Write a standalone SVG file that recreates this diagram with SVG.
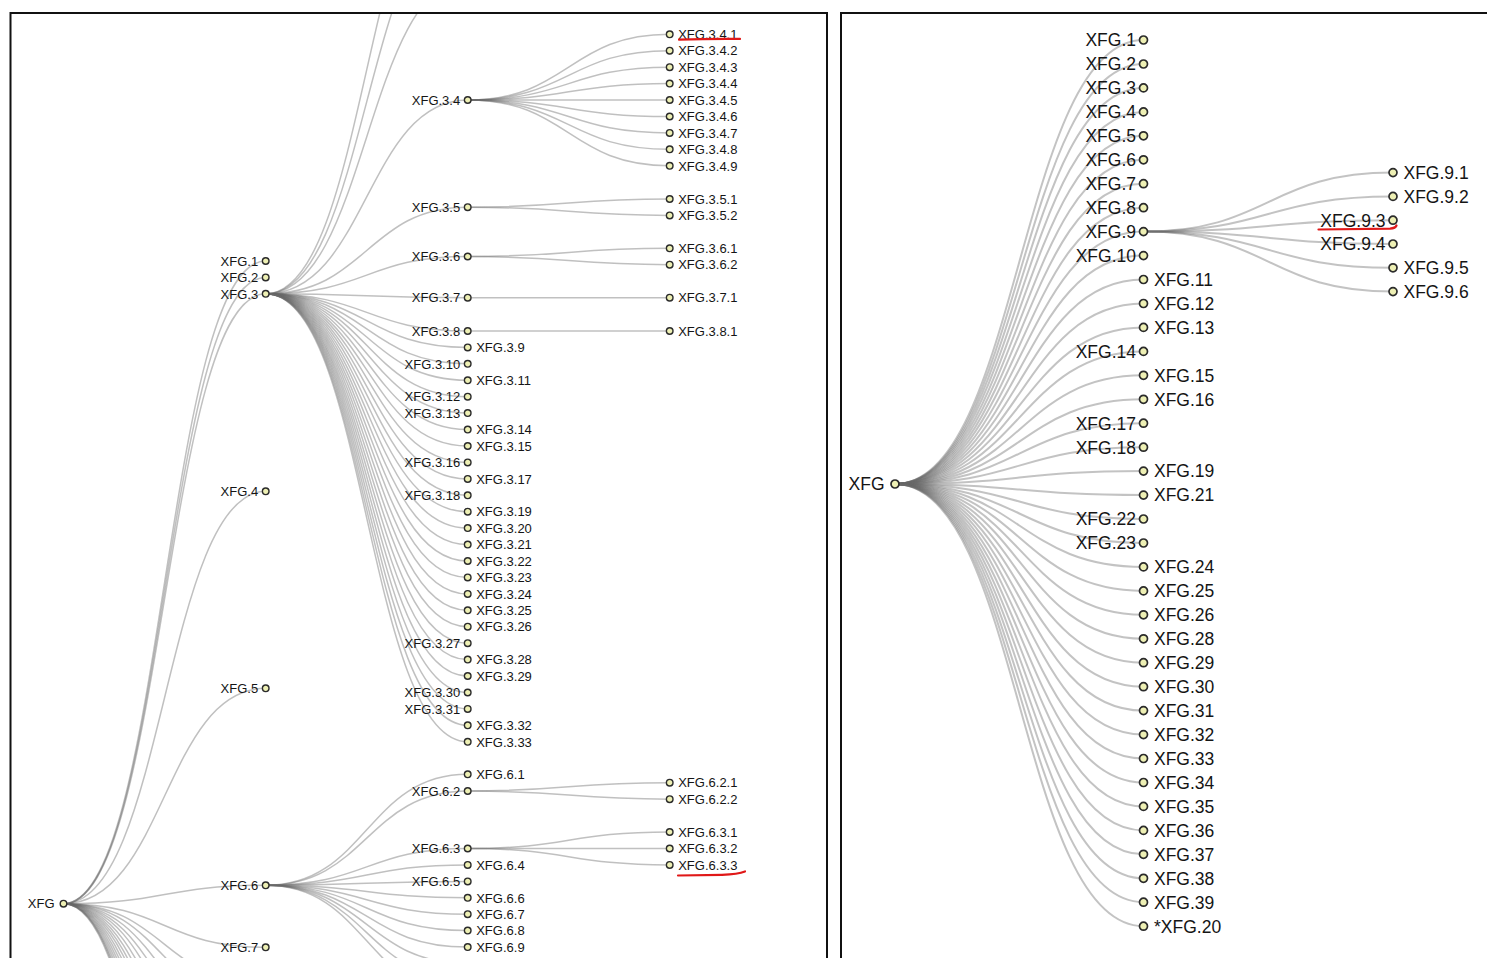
<svg xmlns="http://www.w3.org/2000/svg" width="1487" height="958" viewBox="0 0 1487 958">
<style>
.lk{fill:none;stroke:#6a6a6a;stroke-opacity:.42;stroke-width:1.5}
.rk{fill:none;stroke:#6a6a6a;stroke-opacity:.4;stroke-width:2}
.n circle{fill:#eef0b4;stroke:#2b2b2b;stroke-width:1.4}
.ln text{font-family:"Liberation Sans",Arial,sans-serif;font-size:13px;fill:#151515}
.rn text{font-family:"Liberation Sans",Arial,sans-serif;font-size:17.5px;fill:#151515}
.rn circle{stroke-width:1.7}
.e{text-anchor:end}
.frame{fill:none;stroke:#111;stroke-width:2}
.red{fill:none;stroke:#e01818;stroke-width:2.2;stroke-linecap:round}
</style>
<defs>
<clipPath id="cl"><rect x="11" y="14" width="815" height="960"/></clipPath>
<clipPath id="cr"><rect x="842" y="14" width="660" height="960"/></clipPath>
</defs>
<rect width="1487" height="958" fill="#fff"/>
<rect class="frame" x="10.5" y="13" width="816.5" height="980"/>
<rect class="frame" x="841" y="13" width="680" height="980"/>

<g id="links-left" clip-path="url(#cl)">
<path class="lk" d="M63.5,903.7C164.6,903.7 164.6,261 265.7,261"/>
<path class="lk" d="M63.5,903.7C164.6,903.7 164.6,277.4 265.7,277.4"/>
<path class="lk" d="M63.5,903.7C164.6,903.7 164.6,293.8 265.7,293.8"/>
<path class="lk" d="M63.5,903.7C164.6,903.7 164.6,491.3 265.7,491.3"/>
<path class="lk" d="M63.5,903.7C164.6,903.7 164.6,688.3 265.7,688.3"/>
<path class="lk" d="M63.5,903.7C164.6,903.7 164.6,885.3 265.7,885.3"/>
<path class="lk" d="M63.5,903.7C164.6,903.7 164.6,947.3 265.7,947.3"/>
<path class="lk" d="M63.5,903.7C164.6,903.7 164.6,985 265.7,985"/>
<path class="lk" d="M63.5,903.7C164.6,903.7 164.6,1010 265.7,1010"/>
<path class="lk" d="M63.5,903.7C164.6,903.7 164.6,1040 265.7,1040"/>
<path class="lk" d="M63.5,903.7C164.6,903.7 164.6,1070 265.7,1070"/>
<path class="lk" d="M63.5,903.7C164.6,903.7 164.6,1100 265.7,1100"/>
<path class="lk" d="M63.5,903.7C164.6,903.7 164.6,1135 265.7,1135"/>
<path class="lk" d="M63.5,903.7C164.6,903.7 164.6,1170 265.7,1170"/>
<path class="lk" d="M63.5,903.7C164.6,903.7 164.6,1205 265.7,1205"/>
<path class="lk" d="M63.5,903.7C164.6,903.7 164.6,1240 265.7,1240"/>
<path class="lk" d="M63.5,903.7C164.6,903.7 164.6,1280 265.7,1280"/>
<path class="lk" d="M63.5,903.7C164.6,903.7 164.6,1320 265.7,1320"/>
<path class="lk" d="M63.5,903.7C164.6,903.7 164.6,1360 265.7,1360"/>
<path class="lk" d="M63.5,903.7C164.6,903.7 164.6,1400 265.7,1400"/>
<path class="lk" d="M63.5,903.7C164.6,903.7 164.6,1440 265.7,1440"/>
<path class="lk" d="M63.5,903.7C164.6,903.7 164.6,1480 265.7,1480"/>
<path class="lk" d="M63.5,903.7C164.6,903.7 164.6,1515 265.7,1515"/>
<path class="lk" d="M63.5,903.7C164.6,903.7 164.6,1546 265.7,1546"/>

<path class="lk" d="M265.7,293.8C366.7,293.8 366.7,-154 467.7,-154"/>
<path class="lk" d="M265.7,293.8C366.7,293.8 366.7,-90 467.7,-90"/>
<path class="lk" d="M265.7,293.8C366.7,293.8 366.7,-20 467.7,-20"/>
<path class="lk" d="M265.7,293.8C366.7,293.8 366.7,100 467.7,100"/>
<path class="lk" d="M265.7,293.8C366.7,293.8 366.7,207.2 467.7,207.2"/>
<path class="lk" d="M265.7,293.8C366.7,293.8 366.7,256.5 467.7,256.5"/>
<path class="lk" d="M265.7,293.8C366.7,293.8 366.7,297.7 467.7,297.7"/>
<path class="lk" d="M265.7,293.8C366.7,293.8 366.7,331 467.7,331"/>
<path class="lk" d="M265.7,293.8C366.7,293.8 366.7,347.4 467.7,347.4"/>
<path class="lk" d="M265.7,293.8C366.7,293.8 366.7,363.8 467.7,363.8"/>
<path class="lk" d="M265.7,293.8C366.7,293.8 366.7,380.3 467.7,380.3"/>
<path class="lk" d="M265.7,293.8C366.7,293.8 366.7,396.7 467.7,396.7"/>
<path class="lk" d="M265.7,293.8C366.7,293.8 366.7,413.1 467.7,413.1"/>
<path class="lk" d="M265.7,293.8C366.7,293.8 366.7,429.6 467.7,429.6"/>
<path class="lk" d="M265.7,293.8C366.7,293.8 366.7,446 467.7,446"/>
<path class="lk" d="M265.7,293.8C366.7,293.8 366.7,462.4 467.7,462.4"/>
<path class="lk" d="M265.7,293.8C366.7,293.8 366.7,478.9 467.7,478.9"/>
<path class="lk" d="M265.7,293.8C366.7,293.8 366.7,495.3 467.7,495.3"/>
<path class="lk" d="M265.7,293.8C366.7,293.8 366.7,511.7 467.7,511.7"/>
<path class="lk" d="M265.7,293.8C366.7,293.8 366.7,528.1 467.7,528.1"/>
<path class="lk" d="M265.7,293.8C366.7,293.8 366.7,544.6 467.7,544.6"/>
<path class="lk" d="M265.7,293.8C366.7,293.8 366.7,561 467.7,561"/>
<path class="lk" d="M265.7,293.8C366.7,293.8 366.7,577.4 467.7,577.4"/>
<path class="lk" d="M265.7,293.8C366.7,293.8 366.7,593.9 467.7,593.9"/>
<path class="lk" d="M265.7,293.8C366.7,293.8 366.7,610.3 467.7,610.3"/>
<path class="lk" d="M265.7,293.8C366.7,293.8 366.7,626.7 467.7,626.7"/>
<path class="lk" d="M265.7,293.8C366.7,293.8 366.7,643.2 467.7,643.2"/>
<path class="lk" d="M265.7,293.8C366.7,293.8 366.7,659.6 467.7,659.6"/>
<path class="lk" d="M265.7,293.8C366.7,293.8 366.7,676 467.7,676"/>
<path class="lk" d="M265.7,293.8C366.7,293.8 366.7,692.5 467.7,692.5"/>
<path class="lk" d="M265.7,293.8C366.7,293.8 366.7,708.9 467.7,708.9"/>
<path class="lk" d="M265.7,293.8C366.7,293.8 366.7,725.3 467.7,725.3"/>
<path class="lk" d="M265.7,293.8C366.7,293.8 366.7,741.8 467.7,741.8"/>

<path class="lk" d="M265.7,885.3C366.7,885.3 366.7,774.3 467.7,774.3"/>
<path class="lk" d="M265.7,885.3C366.7,885.3 366.7,791 467.7,791"/>
<path class="lk" d="M265.7,885.3C366.7,885.3 366.7,848.5 467.7,848.5"/>
<path class="lk" d="M265.7,885.3C366.7,885.3 366.7,864.9 467.7,864.9"/>
<path class="lk" d="M265.7,885.3C366.7,885.3 366.7,881.4 467.7,881.4"/>
<path class="lk" d="M265.7,885.3C366.7,885.3 366.7,897.8 467.7,897.8"/>
<path class="lk" d="M265.7,885.3C366.7,885.3 366.7,914.2 467.7,914.2"/>
<path class="lk" d="M265.7,885.3C366.7,885.3 366.7,930.6 467.7,930.6"/>
<path class="lk" d="M265.7,885.3C366.7,885.3 366.7,947.1 467.7,947.1"/>
<path class="lk" d="M265.7,885.3C366.7,885.3 366.7,963.5 467.7,963.5"/>
<path class="lk" d="M265.7,885.3C366.7,885.3 366.7,979.9 467.7,979.9"/>
<path class="lk" d="M265.7,885.3C366.7,885.3 366.7,996.4 467.7,996.4"/>

<path class="lk" d="M467.7,100C568.7,100 568.7,34.3 669.7,34.3"/>
<path class="lk" d="M467.7,100C568.7,100 568.7,50.7 669.7,50.7"/>
<path class="lk" d="M467.7,100C568.7,100 568.7,67.2 669.7,67.2"/>
<path class="lk" d="M467.7,100C568.7,100 568.7,83.6 669.7,83.6"/>
<path class="lk" d="M467.7,100C568.7,100 568.7,100 669.7,100"/>
<path class="lk" d="M467.7,100C568.7,100 568.7,116.5 669.7,116.5"/>
<path class="lk" d="M467.7,100C568.7,100 568.7,132.9 669.7,132.9"/>
<path class="lk" d="M467.7,100C568.7,100 568.7,149.3 669.7,149.3"/>
<path class="lk" d="M467.7,100C568.7,100 568.7,165.8 669.7,165.8"/>
<path class="lk" d="M467.7,207.2C568.7,207.2 568.7,199 669.7,199"/>
<path class="lk" d="M467.7,207.2C568.7,207.2 568.7,215.4 669.7,215.4"/>
<path class="lk" d="M467.7,256.5C568.7,256.5 568.7,248.3 669.7,248.3"/>
<path class="lk" d="M467.7,256.5C568.7,256.5 568.7,264.7 669.7,264.7"/>
<path class="lk" d="M467.7,297.7C568.7,297.7 568.7,297.7 669.7,297.7"/>
<path class="lk" d="M467.7,331C568.7,331 568.7,331 669.7,331"/>
<path class="lk" d="M467.7,791C568.7,791 568.7,782.7 669.7,782.7"/>
<path class="lk" d="M467.7,791C568.7,791 568.7,799.2 669.7,799.2"/>
<path class="lk" d="M467.7,848.5C568.7,848.5 568.7,832 669.7,832"/>
<path class="lk" d="M467.7,848.5C568.7,848.5 568.7,848.5 669.7,848.5"/>
<path class="lk" d="M467.7,848.5C568.7,848.5 568.7,864.9 669.7,864.9"/>
</g>

<g id="links-right" clip-path="url(#cr)">
<path class="rk" d="M895,484C1019.3,484 1019.3,40 1143.5,40"/>
<path class="rk" d="M895,484C1019.3,484 1019.3,64 1143.5,64"/>
<path class="rk" d="M895,484C1019.3,484 1019.3,87.9 1143.5,87.9"/>
<path class="rk" d="M895,484C1019.3,484 1019.3,111.9 1143.5,111.9"/>
<path class="rk" d="M895,484C1019.3,484 1019.3,135.8 1143.5,135.8"/>
<path class="rk" d="M895,484C1019.3,484 1019.3,159.8 1143.5,159.8"/>
<path class="rk" d="M895,484C1019.3,484 1019.3,183.7 1143.5,183.7"/>
<path class="rk" d="M895,484C1019.3,484 1019.3,207.7 1143.5,207.7"/>
<path class="rk" d="M895,484C1019.3,484 1019.3,231.6 1143.5,231.6"/>
<path class="rk" d="M895,484C1019.3,484 1019.3,255.6 1143.5,255.6"/>
<path class="rk" d="M895,484C1019.3,484 1019.3,279.5 1143.5,279.5"/>
<path class="rk" d="M895,484C1019.3,484 1019.3,303.5 1143.5,303.5"/>
<path class="rk" d="M895,484C1019.3,484 1019.3,327.4 1143.5,327.4"/>
<path class="rk" d="M895,484C1019.3,484 1019.3,351.4 1143.5,351.4"/>
<path class="rk" d="M895,484C1019.3,484 1019.3,375.3 1143.5,375.3"/>
<path class="rk" d="M895,484C1019.3,484 1019.3,399.3 1143.5,399.3"/>
<path class="rk" d="M895,484C1019.3,484 1019.3,423.2 1143.5,423.2"/>
<path class="rk" d="M895,484C1019.3,484 1019.3,447.2 1143.5,447.2"/>
<path class="rk" d="M895,484C1019.3,484 1019.3,471.1 1143.5,471.1"/>
<path class="rk" d="M895,484C1019.3,484 1019.3,495.1 1143.5,495.1"/>
<path class="rk" d="M895,484C1019.3,484 1019.3,519 1143.5,519"/>
<path class="rk" d="M895,484C1019.3,484 1019.3,543 1143.5,543"/>
<path class="rk" d="M895,484C1019.3,484 1019.3,566.9 1143.5,566.9"/>
<path class="rk" d="M895,484C1019.3,484 1019.3,590.9 1143.5,590.9"/>
<path class="rk" d="M895,484C1019.3,484 1019.3,614.8 1143.5,614.8"/>
<path class="rk" d="M895,484C1019.3,484 1019.3,638.8 1143.5,638.8"/>
<path class="rk" d="M895,484C1019.3,484 1019.3,662.7 1143.5,662.7"/>
<path class="rk" d="M895,484C1019.3,484 1019.3,686.7 1143.5,686.7"/>
<path class="rk" d="M895,484C1019.3,484 1019.3,710.6 1143.5,710.6"/>
<path class="rk" d="M895,484C1019.3,484 1019.3,734.6 1143.5,734.6"/>
<path class="rk" d="M895,484C1019.3,484 1019.3,758.5 1143.5,758.5"/>
<path class="rk" d="M895,484C1019.3,484 1019.3,782.5 1143.5,782.5"/>
<path class="rk" d="M895,484C1019.3,484 1019.3,806.4 1143.5,806.4"/>
<path class="rk" d="M895,484C1019.3,484 1019.3,830.4 1143.5,830.4"/>
<path class="rk" d="M895,484C1019.3,484 1019.3,854.3 1143.5,854.3"/>
<path class="rk" d="M895,484C1019.3,484 1019.3,878.3 1143.5,878.3"/>
<path class="rk" d="M895,484C1019.3,484 1019.3,902.2 1143.5,902.2"/>
<path class="rk" d="M895,484C1019.3,484 1019.3,926.2 1143.5,926.2"/>
<path class="rk" d="M1143.5,231.6C1268.3,231.6 1268.3,172.6 1393,172.6"/>
<path class="rk" d="M1143.5,231.6C1268.3,231.6 1268.3,196.4 1393,196.4"/>
<path class="rk" d="M1143.5,231.6C1268.3,231.6 1268.3,220.2 1393,220.2"/>
<path class="rk" d="M1143.5,231.6C1268.3,231.6 1268.3,244 1393,244"/>
<path class="rk" d="M1143.5,231.6C1268.3,231.6 1268.3,267.8 1393,267.8"/>
<path class="rk" d="M1143.5,231.6C1268.3,231.6 1268.3,291.6 1393,291.6"/>
</g>

<g id="nodes-left" class="ln">
<g class="n" id="L-XFG" transform="translate(63.5,903.7)"><circle r="3.3"/><text class="e" x="-9" y="4.7">XFG</text></g>
<g class="n" id="L-XFG-1" transform="translate(265.7,261)"><circle r="3.3"/><text class="e" x="-7.5" y="4.7">XFG.1</text></g>
<g class="n" id="L-XFG-2" transform="translate(265.7,277.4)"><circle r="3.3"/><text class="e" x="-7.5" y="4.7">XFG.2</text></g>
<g class="n" id="L-XFG-3" transform="translate(265.7,293.8)"><circle r="3.3"/><text class="e" x="-7.5" y="4.7">XFG.3</text></g>
<g class="n" id="L-XFG-4" transform="translate(265.7,491.3)"><circle r="3.3"/><text class="e" x="-7.5" y="4.7">XFG.4</text></g>
<g class="n" id="L-XFG-5" transform="translate(265.7,688.3)"><circle r="3.3"/><text class="e" x="-7.5" y="4.7">XFG.5</text></g>
<g class="n" id="L-XFG-6" transform="translate(265.7,885.3)"><circle r="3.3"/><text class="e" x="-7.5" y="4.7">XFG.6</text></g>
<g class="n" id="L-XFG-7" transform="translate(265.7,947.3)"><circle r="3.3"/><text class="e" x="-7.5" y="4.7">XFG.7</text></g>

<g class="n" id="L-XFG-3-4" transform="translate(467.7,100)"><circle r="3.3"/><text class="e" x="-7.5" y="4.7">XFG.3.4</text></g>
<g class="n" id="L-XFG-3-5" transform="translate(467.7,207.2)"><circle r="3.3"/><text class="e" x="-7.5" y="4.7">XFG.3.5</text></g>
<g class="n" id="L-XFG-3-6" transform="translate(467.7,256.5)"><circle r="3.3"/><text class="e" x="-7.5" y="4.7">XFG.3.6</text></g>
<g class="n" id="L-XFG-3-7" transform="translate(467.7,297.7)"><circle r="3.3"/><text class="e" x="-7.5" y="4.7">XFG.3.7</text></g>
<g class="n" id="L-XFG-3-8" transform="translate(467.7,331)"><circle r="3.3"/><text class="e" x="-7.5" y="4.7">XFG.3.8</text></g>
<g class="n" id="L-XFG-3-9" transform="translate(467.7,347.4)"><circle r="3.3"/><text x="8.5" y="4.7">XFG.3.9</text></g>
<g class="n" id="L-XFG-3-10" transform="translate(467.7,363.8)"><circle r="3.3"/><text class="e" x="-7.5" y="4.7">XFG.3.10</text></g>
<g class="n" id="L-XFG-3-11" transform="translate(467.7,380.3)"><circle r="3.3"/><text x="8.5" y="4.7">XFG.3.11</text></g>
<g class="n" id="L-XFG-3-12" transform="translate(467.7,396.7)"><circle r="3.3"/><text class="e" x="-7.5" y="4.7">XFG.3.12</text></g>
<g class="n" id="L-XFG-3-13" transform="translate(467.7,413.1)"><circle r="3.3"/><text class="e" x="-7.5" y="4.7">XFG.3.13</text></g>
<g class="n" id="L-XFG-3-14" transform="translate(467.7,429.6)"><circle r="3.3"/><text x="8.5" y="4.7">XFG.3.14</text></g>
<g class="n" id="L-XFG-3-15" transform="translate(467.7,446)"><circle r="3.3"/><text x="8.5" y="4.7">XFG.3.15</text></g>
<g class="n" id="L-XFG-3-16" transform="translate(467.7,462.4)"><circle r="3.3"/><text class="e" x="-7.5" y="4.7">XFG.3.16</text></g>
<g class="n" id="L-XFG-3-17" transform="translate(467.7,478.9)"><circle r="3.3"/><text x="8.5" y="4.7">XFG.3.17</text></g>
<g class="n" id="L-XFG-3-18" transform="translate(467.7,495.3)"><circle r="3.3"/><text class="e" x="-7.5" y="4.7">XFG.3.18</text></g>
<g class="n" id="L-XFG-3-19" transform="translate(467.7,511.7)"><circle r="3.3"/><text x="8.5" y="4.7">XFG.3.19</text></g>
<g class="n" id="L-XFG-3-20" transform="translate(467.7,528.1)"><circle r="3.3"/><text x="8.5" y="4.7">XFG.3.20</text></g>
<g class="n" id="L-XFG-3-21" transform="translate(467.7,544.6)"><circle r="3.3"/><text x="8.5" y="4.7">XFG.3.21</text></g>
<g class="n" id="L-XFG-3-22" transform="translate(467.7,561)"><circle r="3.3"/><text x="8.5" y="4.7">XFG.3.22</text></g>
<g class="n" id="L-XFG-3-23" transform="translate(467.7,577.4)"><circle r="3.3"/><text x="8.5" y="4.7">XFG.3.23</text></g>
<g class="n" id="L-XFG-3-24" transform="translate(467.7,593.9)"><circle r="3.3"/><text x="8.5" y="4.7">XFG.3.24</text></g>
<g class="n" id="L-XFG-3-25" transform="translate(467.7,610.3)"><circle r="3.3"/><text x="8.5" y="4.7">XFG.3.25</text></g>
<g class="n" id="L-XFG-3-26" transform="translate(467.7,626.7)"><circle r="3.3"/><text x="8.5" y="4.7">XFG.3.26</text></g>
<g class="n" id="L-XFG-3-27" transform="translate(467.7,643.2)"><circle r="3.3"/><text class="e" x="-7.5" y="4.7">XFG.3.27</text></g>
<g class="n" id="L-XFG-3-28" transform="translate(467.7,659.6)"><circle r="3.3"/><text x="8.5" y="4.7">XFG.3.28</text></g>
<g class="n" id="L-XFG-3-29" transform="translate(467.7,676)"><circle r="3.3"/><text x="8.5" y="4.7">XFG.3.29</text></g>
<g class="n" id="L-XFG-3-30" transform="translate(467.7,692.5)"><circle r="3.3"/><text class="e" x="-7.5" y="4.7">XFG.3.30</text></g>
<g class="n" id="L-XFG-3-31" transform="translate(467.7,708.9)"><circle r="3.3"/><text class="e" x="-7.5" y="4.7">XFG.3.31</text></g>
<g class="n" id="L-XFG-3-32" transform="translate(467.7,725.3)"><circle r="3.3"/><text x="8.5" y="4.7">XFG.3.32</text></g>
<g class="n" id="L-XFG-3-33" transform="translate(467.7,741.8)"><circle r="3.3"/><text x="8.5" y="4.7">XFG.3.33</text></g>

<g class="n" id="L-XFG-6-1" transform="translate(467.7,774.3)"><circle r="3.3"/><text x="8.5" y="4.7">XFG.6.1</text></g>
<g class="n" id="L-XFG-6-2" transform="translate(467.7,791)"><circle r="3.3"/><text class="e" x="-7.5" y="4.7">XFG.6.2</text></g>
<g class="n" id="L-XFG-6-3" transform="translate(467.7,848.5)"><circle r="3.3"/><text class="e" x="-7.5" y="4.7">XFG.6.3</text></g>
<g class="n" id="L-XFG-6-4" transform="translate(467.7,864.9)"><circle r="3.3"/><text x="8.5" y="4.7">XFG.6.4</text></g>
<g class="n" id="L-XFG-6-5" transform="translate(467.7,881.4)"><circle r="3.3"/><text class="e" x="-7.5" y="4.7">XFG.6.5</text></g>
<g class="n" id="L-XFG-6-6" transform="translate(467.7,897.8)"><circle r="3.3"/><text x="8.5" y="4.7">XFG.6.6</text></g>
<g class="n" id="L-XFG-6-7" transform="translate(467.7,914.2)"><circle r="3.3"/><text x="8.5" y="4.7">XFG.6.7</text></g>
<g class="n" id="L-XFG-6-8" transform="translate(467.7,930.6)"><circle r="3.3"/><text x="8.5" y="4.7">XFG.6.8</text></g>
<g class="n" id="L-XFG-6-9" transform="translate(467.7,947.1)"><circle r="3.3"/><text x="8.5" y="4.7">XFG.6.9</text></g>

<g class="n" id="L-XFG-3-4-1" transform="translate(669.7,34.3)"><circle r="3.3"/><text x="8.5" y="4.7">XFG.3.4.1</text></g>
<g class="n" id="L-XFG-3-4-2" transform="translate(669.7,50.7)"><circle r="3.3"/><text x="8.5" y="4.7">XFG.3.4.2</text></g>
<g class="n" id="L-XFG-3-4-3" transform="translate(669.7,67.2)"><circle r="3.3"/><text x="8.5" y="4.7">XFG.3.4.3</text></g>
<g class="n" id="L-XFG-3-4-4" transform="translate(669.7,83.6)"><circle r="3.3"/><text x="8.5" y="4.7">XFG.3.4.4</text></g>
<g class="n" id="L-XFG-3-4-5" transform="translate(669.7,100)"><circle r="3.3"/><text x="8.5" y="4.7">XFG.3.4.5</text></g>
<g class="n" id="L-XFG-3-4-6" transform="translate(669.7,116.5)"><circle r="3.3"/><text x="8.5" y="4.7">XFG.3.4.6</text></g>
<g class="n" id="L-XFG-3-4-7" transform="translate(669.7,132.9)"><circle r="3.3"/><text x="8.5" y="4.7">XFG.3.4.7</text></g>
<g class="n" id="L-XFG-3-4-8" transform="translate(669.7,149.3)"><circle r="3.3"/><text x="8.5" y="4.7">XFG.3.4.8</text></g>
<g class="n" id="L-XFG-3-4-9" transform="translate(669.7,165.8)"><circle r="3.3"/><text x="8.5" y="4.7">XFG.3.4.9</text></g>
<g class="n" id="L-XFG-3-5-1" transform="translate(669.7,199)"><circle r="3.3"/><text x="8.5" y="4.7">XFG.3.5.1</text></g>
<g class="n" id="L-XFG-3-5-2" transform="translate(669.7,215.4)"><circle r="3.3"/><text x="8.5" y="4.7">XFG.3.5.2</text></g>
<g class="n" id="L-XFG-3-6-1" transform="translate(669.7,248.3)"><circle r="3.3"/><text x="8.5" y="4.7">XFG.3.6.1</text></g>
<g class="n" id="L-XFG-3-6-2" transform="translate(669.7,264.7)"><circle r="3.3"/><text x="8.5" y="4.7">XFG.3.6.2</text></g>
<g class="n" id="L-XFG-3-7-1" transform="translate(669.7,297.7)"><circle r="3.3"/><text x="8.5" y="4.7">XFG.3.7.1</text></g>
<g class="n" id="L-XFG-3-8-1" transform="translate(669.7,331)"><circle r="3.3"/><text x="8.5" y="4.7">XFG.3.8.1</text></g>
<g class="n" id="L-XFG-6-2-1" transform="translate(669.7,782.7)"><circle r="3.3"/><text x="8.5" y="4.7">XFG.6.2.1</text></g>
<g class="n" id="L-XFG-6-2-2" transform="translate(669.7,799.2)"><circle r="3.3"/><text x="8.5" y="4.7">XFG.6.2.2</text></g>
<g class="n" id="L-XFG-6-3-1" transform="translate(669.7,832)"><circle r="3.3"/><text x="8.5" y="4.7">XFG.6.3.1</text></g>
<g class="n" id="L-XFG-6-3-2" transform="translate(669.7,848.5)"><circle r="3.3"/><text x="8.5" y="4.7">XFG.6.3.2</text></g>
<g class="n" id="L-XFG-6-3-3" transform="translate(669.7,864.9)"><circle r="3.3"/><text x="8.5" y="4.7">XFG.6.3.3</text></g>
</g>

<g id="nodes-right" class="rn">
<g class="n" id="R-XFG" transform="translate(895,484)"><circle r="4"/><text class="e" x="-10.5" y="6.3">XFG</text></g>
<g class="n" id="R-XFG-1" transform="translate(1143.5,40)"><circle r="4"/><text class="e" x="-7.5" y="6.3">XFG.1</text></g>
<g class="n" id="R-XFG-2" transform="translate(1143.5,64)"><circle r="4"/><text class="e" x="-7.5" y="6.3">XFG.2</text></g>
<g class="n" id="R-XFG-3" transform="translate(1143.5,87.9)"><circle r="4"/><text class="e" x="-7.5" y="6.3">XFG.3</text></g>
<g class="n" id="R-XFG-4" transform="translate(1143.5,111.9)"><circle r="4"/><text class="e" x="-7.5" y="6.3">XFG.4</text></g>
<g class="n" id="R-XFG-5" transform="translate(1143.5,135.8)"><circle r="4"/><text class="e" x="-7.5" y="6.3">XFG.5</text></g>
<g class="n" id="R-XFG-6" transform="translate(1143.5,159.8)"><circle r="4"/><text class="e" x="-7.5" y="6.3">XFG.6</text></g>
<g class="n" id="R-XFG-7" transform="translate(1143.5,183.7)"><circle r="4"/><text class="e" x="-7.5" y="6.3">XFG.7</text></g>
<g class="n" id="R-XFG-8" transform="translate(1143.5,207.7)"><circle r="4"/><text class="e" x="-7.5" y="6.3">XFG.8</text></g>
<g class="n" id="R-XFG-9" transform="translate(1143.5,231.6)"><circle r="4"/><text class="e" x="-7.5" y="6.3">XFG.9</text></g>
<g class="n" id="R-XFG-10" transform="translate(1143.5,255.6)"><circle r="4"/><text class="e" x="-7.5" y="6.3">XFG.10</text></g>
<g class="n" id="R-XFG-11" transform="translate(1143.5,279.5)"><circle r="4"/><text x="10.5" y="6.3">XFG.11</text></g>
<g class="n" id="R-XFG-12" transform="translate(1143.5,303.5)"><circle r="4"/><text x="10.5" y="6.3">XFG.12</text></g>
<g class="n" id="R-XFG-13" transform="translate(1143.5,327.4)"><circle r="4"/><text x="10.5" y="6.3">XFG.13</text></g>
<g class="n" id="R-XFG-14" transform="translate(1143.5,351.4)"><circle r="4"/><text class="e" x="-7.5" y="6.3">XFG.14</text></g>
<g class="n" id="R-XFG-15" transform="translate(1143.5,375.3)"><circle r="4"/><text x="10.5" y="6.3">XFG.15</text></g>
<g class="n" id="R-XFG-16" transform="translate(1143.5,399.3)"><circle r="4"/><text x="10.5" y="6.3">XFG.16</text></g>
<g class="n" id="R-XFG-17" transform="translate(1143.5,423.2)"><circle r="4"/><text class="e" x="-7.5" y="6.3">XFG.17</text></g>
<g class="n" id="R-XFG-18" transform="translate(1143.5,447.2)"><circle r="4"/><text class="e" x="-7.5" y="6.3">XFG.18</text></g>
<g class="n" id="R-XFG-19" transform="translate(1143.5,471.1)"><circle r="4"/><text x="10.5" y="6.3">XFG.19</text></g>
<g class="n" id="R-XFG-21" transform="translate(1143.5,495.1)"><circle r="4"/><text x="10.5" y="6.3">XFG.21</text></g>
<g class="n" id="R-XFG-22" transform="translate(1143.5,519)"><circle r="4"/><text class="e" x="-7.5" y="6.3">XFG.22</text></g>
<g class="n" id="R-XFG-23" transform="translate(1143.5,543)"><circle r="4"/><text class="e" x="-7.5" y="6.3">XFG.23</text></g>
<g class="n" id="R-XFG-24" transform="translate(1143.5,566.9)"><circle r="4"/><text x="10.5" y="6.3">XFG.24</text></g>
<g class="n" id="R-XFG-25" transform="translate(1143.5,590.9)"><circle r="4"/><text x="10.5" y="6.3">XFG.25</text></g>
<g class="n" id="R-XFG-26" transform="translate(1143.5,614.8)"><circle r="4"/><text x="10.5" y="6.3">XFG.26</text></g>
<g class="n" id="R-XFG-28" transform="translate(1143.5,638.8)"><circle r="4"/><text x="10.5" y="6.3">XFG.28</text></g>
<g class="n" id="R-XFG-29" transform="translate(1143.5,662.7)"><circle r="4"/><text x="10.5" y="6.3">XFG.29</text></g>
<g class="n" id="R-XFG-30" transform="translate(1143.5,686.7)"><circle r="4"/><text x="10.5" y="6.3">XFG.30</text></g>
<g class="n" id="R-XFG-31" transform="translate(1143.5,710.6)"><circle r="4"/><text x="10.5" y="6.3">XFG.31</text></g>
<g class="n" id="R-XFG-32" transform="translate(1143.5,734.6)"><circle r="4"/><text x="10.5" y="6.3">XFG.32</text></g>
<g class="n" id="R-XFG-33" transform="translate(1143.5,758.5)"><circle r="4"/><text x="10.5" y="6.3">XFG.33</text></g>
<g class="n" id="R-XFG-34" transform="translate(1143.5,782.5)"><circle r="4"/><text x="10.5" y="6.3">XFG.34</text></g>
<g class="n" id="R-XFG-35" transform="translate(1143.5,806.4)"><circle r="4"/><text x="10.5" y="6.3">XFG.35</text></g>
<g class="n" id="R-XFG-36" transform="translate(1143.5,830.4)"><circle r="4"/><text x="10.5" y="6.3">XFG.36</text></g>
<g class="n" id="R-XFG-37" transform="translate(1143.5,854.3)"><circle r="4"/><text x="10.5" y="6.3">XFG.37</text></g>
<g class="n" id="R-XFG-38" transform="translate(1143.5,878.3)"><circle r="4"/><text x="10.5" y="6.3">XFG.38</text></g>
<g class="n" id="R-XFG-39" transform="translate(1143.5,902.2)"><circle r="4"/><text x="10.5" y="6.3">XFG.39</text></g>
<g class="n" id="R-XFG-20" transform="translate(1143.5,926.2)"><circle r="4"/><text x="10.5" y="6.3">*XFG.20</text></g>
<g class="n" id="R-XFG-9-1" transform="translate(1393,172.6)"><circle r="4"/><text x="10.5" y="6.3">XFG.9.1</text></g>
<g class="n" id="R-XFG-9-2" transform="translate(1393,196.4)"><circle r="4"/><text x="10.5" y="6.3">XFG.9.2</text></g>
<g class="n" id="R-XFG-9-3" transform="translate(1393,220.2)"><circle r="4"/><text class="e" x="-7.5" y="6.3">XFG.9.3</text></g>
<g class="n" id="R-XFG-9-4" transform="translate(1393,244)"><circle r="4"/><text class="e" x="-7.5" y="6.3">XFG.9.4</text></g>
<g class="n" id="R-XFG-9-5" transform="translate(1393,267.8)"><circle r="4"/><text x="10.5" y="6.3">XFG.9.5</text></g>
<g class="n" id="R-XFG-9-6" transform="translate(1393,291.6)"><circle r="4"/><text x="10.5" y="6.3">XFG.9.6</text></g>
</g>

<g id="annotations">
<path class="red" d="M679,39.6Q710,38.6 740,38.9"/>
<path class="red" d="M678,875.5L722,874.8Q738,874.3 745,871.5"/>
<path class="red" d="M1318.5,229.5L1390,228.6Q1395.5,228.2 1396.5,225.5"/>
</g>
</svg>
